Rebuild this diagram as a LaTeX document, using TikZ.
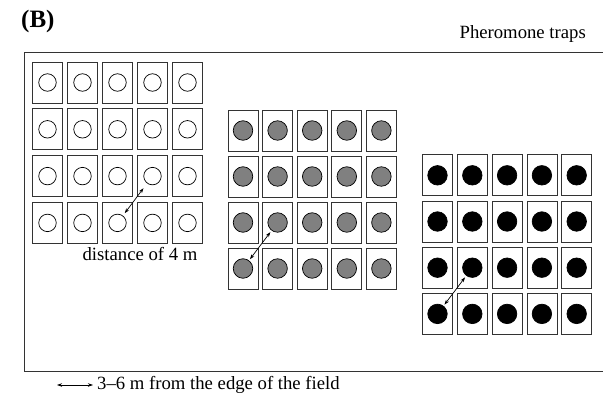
\documentclass[tikz,border=0pt]{standalone}
\usepackage{fontspec}
\setmainfont{Liberation Serif}
\usetikzlibrary{arrows.meta,positioning}
\begin{document}
\begin{tikzpicture}[x=1pt,y=-1pt,
    trap/.style={draw=black!80, line width=0.8pt, minimum width=30pt,
      minimum height=41pt, inner sep=0pt},
    bait/.style={draw, line width=0.7pt, circle, inner sep=0pt, minimum size=#1},
    gap/.style={<->, >={Stealth[length=5pt,width=3.5pt]}, line width=0.7pt},
    lbl/.style={font=\fontsize{18.7}{21}\selectfont, inner sep=0pt}]
  \useasboundingbox (0,0) rectangle (603,399);

  % Panel letter and title
  \node[font=\fontsize{25}{27}\selectfont\bfseries, anchor=west, inner sep=0pt] (panel) at (21,21) {(B)};
  \node[lbl, anchor=east] (title) at (586,34) {Pheromone traps};

  % Edge of the field
  \draw[line width=0.9pt, draw=black!80] (603,52) -- (24,52) -- (24,371) -- (603,371);

  % Traps, white lures
  \foreach \r in {1,...,4}
    \foreach \c in {1,...,5} {
      \node[trap] (wb\r\c) at ({47.5+(\c-1)*35}, {82.5+(\r-1)*46.8}) {};
      \node[bait=17.5pt, fill=white] (w\r\c) at (wb\r\c) {};
    }

  % Traps, grey lures
  \foreach \r in {1,...,4}
    \foreach \c in {1,...,5} {
      \node[trap] (gb\r\c) at ({243+(\c-1)*34.6}, {130.5+(\r-1)*46}) {};
      \node[bait=19.5pt, fill=black!50] (g\r\c) at (gb\r\c) {};
    }

  % Traps, black lures
  \foreach \r in {1,...,4}
    \foreach \c in {1,...,5} {
      \node[trap] (bb\r\c) at ({437.5+(\c-1)*34.8}, {175.3+(\r-1)*46.2}) {};
      \node[bait=19.5pt, fill=black] (b\r\c) at (bb\r\c) {};
    }

  % Distance between traps
  \draw[gap, shorten <=3pt, shorten >=6pt] (w43) -- (w34);
  \node[lbl] (dist) at (140,254) {distance of 4 m};
  \draw[gap, shorten <=1.5pt, shorten >=2pt] (g41) -- (g32);
  \draw[gap, shorten <=1.5pt, shorten >=2pt] (b41) -- (b32);

  % Legend
  \coordinate (legL) at (57,385);
  \coordinate (legR) at (93,385);
  \draw[gap] (legL) -- (legR);
  \node[lbl, right=4pt of legR] (legend) {3–6 m from the edge of the field};
\end{tikzpicture}
\end{document}
